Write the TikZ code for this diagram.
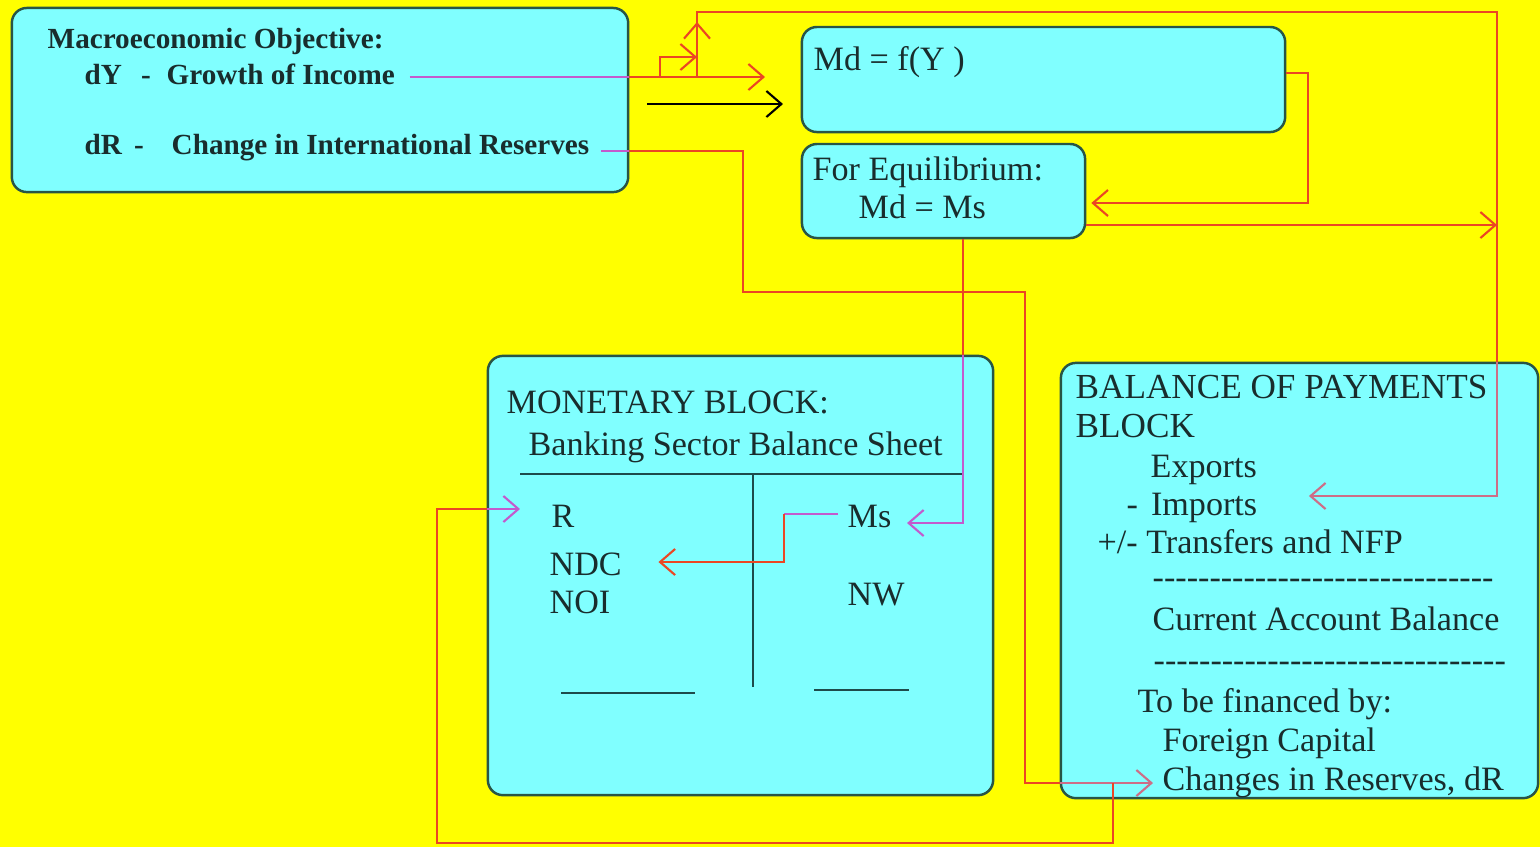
\documentclass[tikz,border=0pt]{standalone}
\usepackage{fontspec}
\setmainfont{Liberation Serif}
\usetikzlibrary{arrows.meta, positioning}

\definecolor{bgyellow}{RGB}{255,255,0}
\definecolor{boxcyan}{RGB}{128,255,255}
\definecolor{boxedge}{RGB}{40,85,70}
\definecolor{inkdark}{RGB}{25,45,45}
\definecolor{linered}{RGB}{235,70,35}
\definecolor{linemag}{RGB}{195,90,205}
\definecolor{linepink}{RGB}{205,110,135}
\definecolor{rulegreen}{RGB}{30,75,75}

\begin{document}
\begin{tikzpicture}[x=0.01cm, y=-0.01cm,
  blockbox/.style={draw=boxedge, fill=boxcyan, line width=0.7pt, rounded corners=0.15cm, inner sep=0pt},
  txt/.style={anchor=base west, inner sep=0pt, text=inkdark, font=\fontsize{9.7}{11}\selectfont},
  boldtxt/.style={txt, font=\fontsize{8.3}{10}\selectfont\bfseries},
  redline/.style={draw=linered, line width=0.6pt},
  magline/.style={draw=linemag, line width=0.6pt},
  pinkline/.style={draw=linepink, line width=0.6pt},
  blkline/.style={draw=black, line width=0.6pt},
  headed/.style={-{Straight Barb[length=1.5mm,width=2.6mm]}},
  sheetrule/.style={draw=rulegreen, line width=0.7pt}]
\fill [bgyellow] (0,0) rectangle (1540,847);
\useasboundingbox (0,0) rectangle (1540,847);

% blocks
\node (objbox) [blockbox, minimum width=6.16cm, minimum height=1.84cm] at (320,100) {};
\node (mdbox) [blockbox, minimum width=4.83cm, minimum height=1.05cm] at (1043.5,79.5) {};
\node (eqbox) [blockbox, minimum width=2.83cm, minimum height=0.94cm] at (943.5,191) {};
\node (monbox) [blockbox, minimum width=5.05cm, minimum height=4.39cm] at (740.5,575.5) {};
\node (bopbox) [blockbox, minimum width=4.77cm, minimum height=4.35cm] at (1299.5,580.5) {};

% objective
\node (objtitle) at (47,48) [boldtxt] {Macroeconomic Objective:};
\node (dytxt) at (84,84) [boldtxt] {dY\hspace{0.19cm}-\hspace{0.16cm}Growth of Income};
\node (drtxt) at (84,154) [boldtxt] {dR\hspace{0.12cm}-\hspace{0.28cm}Change in International Reserves};

% money demand, equilibrium
\node (mdtxt) at (813,70) [txt] {Md = f(Y )};
\node (eqtitle) at (812,180) [txt] {For Equilibrium:};
\node (eqtxt) at (858,218) [txt] {Md = Ms};

% monetary block
\node (montitle) at (506,413) [txt] {MONETARY BLOCK:};
\node (bstitle) at (528,455) [txt] {Banking Sector Balance Sheet};
\draw [sheetrule] (520,474) -- (964,474);
\draw [sheetrule] (753,474) -- (753,687);
\node (rtxt) at (551,527) [txt] {R};
\node (ndctxt) at (549,575) [txt] {NDC};
\node (noitxt) at (549,613) [txt] {NOI};
\node (mstxt) at (847,527) [txt] {Ms};
\node (nwtxt) at (847,605) [txt] {NW};
\draw [sheetrule] (561,693) -- (695,693);
\draw [sheetrule] (814,690) -- (909,690);

% balance of payments block
\node (boptitle) at (1075,398) [txt, font=\fontsize{10}{11}\selectfont] {BALANCE OF PAYMENTS};
\node (bopblock) at (1075,437) [txt, font=\fontsize{10}{11}\selectfont] {BLOCK};
\node (exptxt) at (1150,477) [txt] {Exports};
\node (imptxt) at (1126,515) [txt] {-\hspace{0.13cm}Imports};
\node (trftxt) at (1097,553) [txt] {+/- Transfers and NFP};
\node (dashone) at (1152,588) [txt] {\foreach \k in {1,...,30}{\mbox{-}}};
\node (cabtxt) at (1152,630) [txt] {Current Account Balance};
\node (dashtwo) at (1153,671) [txt] {\foreach \k in {1,...,31}{\mbox{-}}};
\node (tbftxt) at (1137,712) [txt] {To be financed by:};
\node (fctxt) at (1162,751) [txt] {Foreign Capital};
\node (crtxt) at (1162,790) [txt] {Changes in Reserves, dR};

% dY -> money demand
\coordinate (dyout) at ([xshift=0.14cm,yshift=0.07cm]dytxt.base east);
\coordinate (dytip) at (765,0);
\draw [magline] (dyout) -- (dyout -| objbox.east);
\draw [redline, headed] (dyout -| objbox.east) -- (dyout -| dytip);
\coordinate (stepl) at (660,57);
\coordinate (stepr) at (697,57);
\draw [redline, headed] (dyout -| stepl) -- (stepl) -- (stepr);
\coordinate (topl) at (697,12);
\coordinate (topr) at (1497,12);
\coordinate (impin) at ([xshift=0.51cm,yshift=0.19cm]imptxt.base east);
\draw [redline, headed] (dyout -| topl) -- ([yshift=-0.1cm]topl);
\draw [redline] (dyout -| topl) -- (topl) -- (topr) -- (topr |- bopbox.north);
\draw [pinkline, headed] (topr |- bopbox.north) |- (impin);

% black arrow
\coordinate (blkout) at (647,104);
\coordinate (blktip) at (783,104);
\draw [blkline, headed] (blkout) -- (blktip);

% Md -> equilibrium
\coordinate (mdout) at ([yshift=0.065cm]mdbox.east);
\coordinate (mdloop) at (1308,0);
\coordinate (eqin) at ([xshift=0.05cm,yshift=-0.12cm]eqbox.east);
\draw [redline, headed] (mdout) -- (mdout -| mdloop) |- (eqin);
\coordinate (eqout) at ([yshift=-0.34cm]eqbox.east);
\draw [redline, headed] (eqout) -- (eqout -| topr);

% equilibrium -> Ms -> NDC
\coordinate (eqdown) at ([xshift=0.195cm]eqbox.south);
\coordinate (msin) at ([xshift=0.15cm,yshift=0.04cm]mstxt.base east);
\draw [redline] (eqdown) -- (eqdown |- monbox.north);
\draw [magline, headed] (eqdown |- monbox.north) |- (msin);
\coordinate (msout) at ([xshift=-0.09cm,yshift=0.13cm]mstxt.base west);
\coordinate (ndcin) at ([xshift=0.36cm,yshift=0.13cm]ndctxt.base east);
\coordinate (msstep) at (784,0);
\draw [magline] (msout) -- (msout -| msstep);
\draw [redline, headed] (msout -| msstep) |- (ndcin);

% dR -> reserves -> R
\coordinate (drout) at ([xshift=0.11cm,yshift=0.03cm]drtxt.base east);
\coordinate (drturn) at (743,292);
\coordinate (drdrop) at (1025,0);
\coordinate (crin) at ([xshift=-0.09cm,yshift=0.07cm]crtxt.base west);
\draw [magline] (drout) -- (drout -| objbox.east);
\draw [redline] (drout -| objbox.east) -| (drturn) -| (drdrop |- crin) -- (crin -| bopbox.west);
\draw [pinkline, headed] (crin -| bopbox.west) -- (crin);
\coordinate (loopr) at (1113,843);
\coordinate (loopl) at (437,843);
\coordinate (rin) at ([xshift=-0.31cm,yshift=0.18cm]rtxt.base west);
\draw [redline] (loopr |- crin) -- (loopr) -- (loopl) |- (rin -| monbox.west);
\draw [magline, headed] (rin -| monbox.west) -- (rin);
\end{tikzpicture}
\end{document}
